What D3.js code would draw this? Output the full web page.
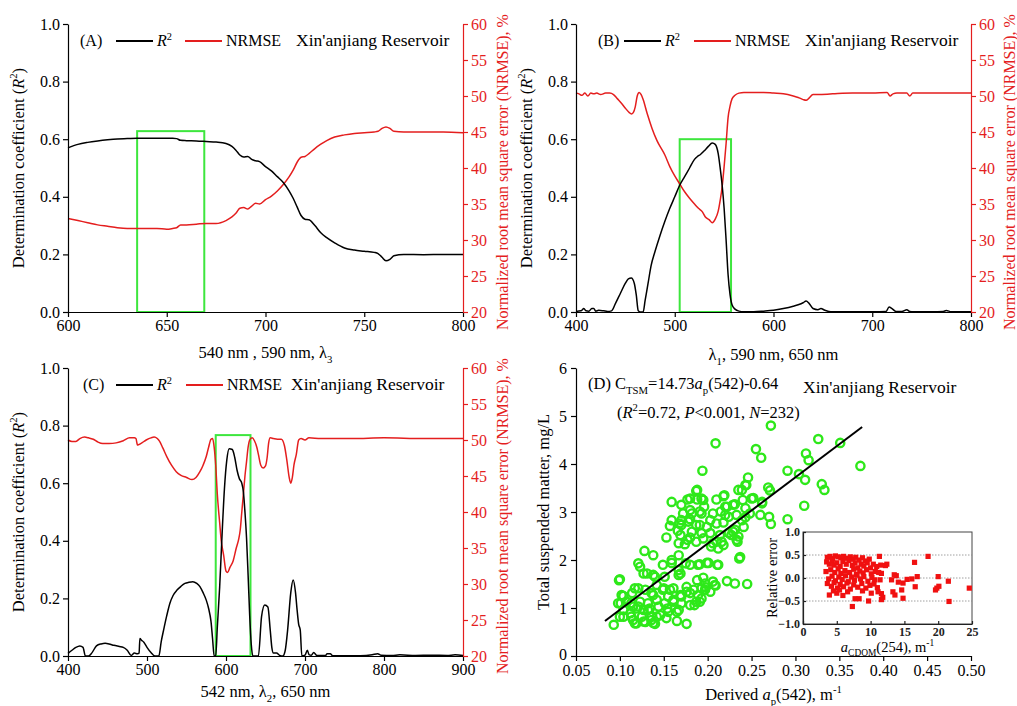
<!DOCTYPE html>
<html><head><meta charset="utf-8">
<script src="https://cdn.jsdelivr.net/npm/d3@7"></script>
<style>
body{margin:0;background:#fff}
svg{font-family:"Liberation Serif","Times New Roman",serif}
</style></head>
<body><svg id="chart" width="1017" height="706"></svg>
<script>
// ---------- Panel A data (λ3 scan) ----------
const aWl=[600,605,610,615,620,625,630,635,640,645,650,653,655,657,660,665,670,675,680,683,685,687,689,691,693,695,697,700,703,706,709,712,714,716,718,720,722,725,728,731,735,740,745,750,755,757,759,761,763,765,770,780,790,800];
const aR2=[0.570,0.582,0.589,0.594,0.598,0.601,0.602,0.603,0.603,0.603,0.603,0.603,0.602,0.596,0.595,0.594,0.592,0.590,0.585,0.575,0.562,0.545,0.538,0.540,0.530,0.525,0.522,0.505,0.490,0.470,0.450,0.420,0.395,0.365,0.335,0.322,0.320,0.300,0.275,0.258,0.240,0.222,0.215,0.211,0.207,0.203,0.190,0.178,0.183,0.195,0.200,0.199,0.200,0.200];
const aNrmse=[33.0,32.7,32.4,32.1,31.9,31.7,31.6,31.6,31.6,31.6,31.5,31.6,31.7,32.1,32.1,32.2,32.3,32.3,32.7,33.2,33.7,34.4,34.5,34.3,34.7,35.1,35.0,35.6,36.1,36.8,37.7,38.8,39.7,40.8,41.5,41.6,42.0,42.7,43.3,43.8,44.3,44.6,44.8,44.9,45.0,45.1,45.5,45.7,45.5,45.1,45.0,45.0,45.0,44.9];
const aBox=[635,669,0.628];

// ---------- Panel B data (λ1 scan) ----------
const bR2Wl=[400,405,408,410,413,416,418,420,423,428,432,436,440,445,450,453,456,459,461,463,465,468,470,473,476,480,485,490,495,500,505,510,515,520,523,526,530,534,538,541,544,546,548,550,552,554,556,558,561,565,570,580,590,600,610,620,625,630,633,636,640,645,648,652,656,660,680,700,714,717,720,724,730,735,738,742,760,772,775,780,800];
const bR2=[0.002,0.004,0.012,0.004,0.003,0.012,0.012,0.003,0.006,0.004,0.002,0.004,0.03,0.065,0.10,0.115,0.118,0.10,0.06,0.005,0.0,0.0,0.04,0.10,0.16,0.21,0.265,0.315,0.36,0.40,0.44,0.47,0.50,0.53,0.54,0.547,0.56,0.575,0.587,0.582,0.55,0.50,0.44,0.36,0.25,0.13,0.06,0.025,0.01,0.003,0.001,0.001,0.003,0.006,0.012,0.02,0.025,0.032,0.038,0.03,0.012,0.008,0.012,0.006,0.002,0.001,0.001,0.001,0.002,0.017,0.012,0.002,0.002,0.008,0.002,0.001,0.001,0.002,0.005,0.001,0.001];
const bNrmseWl=[400,403,406,409,412,415,418,421,425,430,434,438,442,446,450,454,456,458,460,462,464,466,468,472,477,482,490,495,500,505,510,515,520,524,528,531,535,538,541,544,546,548,550,552,554,556,558,561,565,570,580,590,600,610,620,625,630,633,636,640,645,660,680,700,715,718,721,725,735,738,741,760,775,800];
const bNrmse=[50.4,50.3,50.1,50.4,50.0,50.4,50.3,50.4,50.2,50.4,50.4,50.2,49.6,49.0,48.3,47.7,47.5,47.7,48.5,50.0,50.5,50.2,49.5,47.6,45.5,43.8,41.8,40.2,38.9,37.8,36.7,35.8,35.0,34.4,33.9,33.2,32.8,32.4,32.9,34.0,35.5,37.4,40.2,43.4,47.0,48.6,49.6,50.1,50.4,50.5,50.5,50.5,50.4,50.3,50.0,49.8,49.5,49.4,49.7,50.2,50.2,50.3,50.4,50.4,50.5,50.0,50.3,50.4,50.4,50.0,50.4,50.4,50.4,50.4];
const bBox=[505,557,0.60];

// ---------- Panel C data (λ2 scan) ----------
const cR2Wl=[400,405,410,415,419,422,426,430,436,442,447,452,458,465,470,475,480,484,488,490,491,493,496,500,505,510,515,518,521,525,529,533,538,543,548,553,558,563,567,571,575,578,581,583,585,587,589,592,595,598,601,604,608,611,614,617,620,622,624,626,628,630,632,634,641,645,649,653,656,658,660,664,668,672,675,678,682,685,688,690,692,694,696,700,703,705,708,711,715,726,728,732,735,770,785,792,796,810,820,840,860,880,890,900];
const cR2=[0.009,0.02,0.03,0.035,0.03,0.0,0.0,0.01,0.035,0.042,0.044,0.042,0.037,0.033,0.03,0.02,0.002,0.01,0.008,0.01,0.061,0.055,0.048,0.03,0.012,0.0,0.0,0.05,0.09,0.14,0.183,0.21,0.229,0.242,0.252,0.256,0.258,0.252,0.241,0.22,0.194,0.165,0.12,0.06,0.0,0.0,0.1,0.24,0.42,0.58,0.68,0.72,0.717,0.69,0.645,0.615,0.60,0.57,0.50,0.41,0.28,0.14,0.04,0.0,0.0,0.137,0.177,0.17,0.09,0.03,0.01,0.01,0.002,0.0,0.02,0.09,0.22,0.264,0.22,0.16,0.11,0.09,0.0,0.003,0.02,0.005,0.003,0.012,0.002,0.002,0.008,0.008,0.001,0.001,0.004,0.008,0.003,0.002,0.004,0.002,0.003,0.002,0.004,0.002];
const cNrmseWl=[400,405,410,415,421,426,432,438,444,452,461,470,478,484,486,488,492,499,505,509,513,516,520,525,531,537,543,550,557,562,567,571,575,578,581,583,585,587,589,592,594,597,600,602,605,609,613,616,618,620,622,624,626,628,630,633,636,639,641,644,647,650,652,654,656,660,665,670,674,677,680,682,684,686,689,692,695,700,705,720,760,800,850,900];
const cNrmse=[50.0,49.8,49.8,50.2,50.4,50.3,50.1,49.7,49.5,49.5,49.6,49.9,50.3,50.3,50.2,49.3,49.5,50.0,50.3,50.4,50.2,49.8,48.9,47.7,46.5,45.6,45.1,44.8,44.5,44.8,45.6,46.5,47.7,49.0,50.1,50.2,49.0,46.5,42.5,38.5,36.0,34.0,31.8,31.6,32.3,33.2,35.0,36.2,37.5,40.0,42.5,45.0,47.0,49.0,50.0,50.3,49.9,49.0,48.0,46.5,46.1,46.4,47.5,49.6,50.3,50.2,50.1,50.1,49.2,47.2,44.8,44.0,44.8,46.5,48.0,50.0,50.2,50.0,50.3,50.2,50.2,50.3,50.2,50.2];
const cBox=[587,631,0.767];

// ---------- Panel D data ----------
const apDerived=[0.272,0.209,0.326,0.351,0.255,0.261,0.312,0.315,0.374,0.194,0.291,0.304,0.311,0.246,0.330,0.333,0.244,0.269,0.271,0.239,0.252,0.240,0.262,0.243,0.310,0.260,0.270,0.272,0.291,0.243,0.248,0.188,0.180,0.159,0.170,0.188,0.195,0.210,0.218,0.235,0.222,0.229,0.180,0.191,0.172,0.159,0.170,0.180,0.206,0.215,0.224,0.233,0.203,0.210,0.241,0.157,0.170,0.191,0.153,0.169,0.180,0.195,0.167,0.174,0.210,0.218,0.229,0.233,0.237,0.203,0.224,0.128,0.138,0.121,0.099,0.127,0.138,0.149,0.159,0.167,0.169,0.180,0.191,0.201,0.212,0.222,0.231,0.245,0.188,0.197,0.208,0.193,0.203,0.184,0.176,0.169,0.157,0.155,0.149,0.142,0.138,0.129,0.117,0.114,0.102,0.101,0.108,0.115,0.123,0.127,0.134,0.144,0.151,0.161,0.170,0.180,0.191,0.165,0.155,0.146,0.136,0.125,0.115,0.104,0.093,0.119,0.129,0.140,0.153,0.165,0.176,0.112,0.123,0.167,0.167,0.131,0.140,0.151,0.195,0.206,0.198,0.209,0.176,0.161,0.150,0.136,0.121,0.104,0.142,0.170,0.180,0.189,0.197,0.098,0.113,0.121,0.132,0.161,0.187,0.193,0.104,0.119,0.132,0.154,0.167,0.185,0.100,0.113,0.142,0.117,0.127,0.138,0.136,0.100,0.175,0.189,0.199,0.211,0.159,0.236,0.177,0.187,0.206,0.216,0.204,0.212,0.234,0.182,0.193,0.214,0.227,0.235,0.166,0.231,0.168,0.178,0.187,0.199,0.218,0.182,0.193,0.220,0.239,0.177,0.196,0.220,0.231,0.262,0.219,0.193,0.250,0.187,0.243];
const tsmMeasured=[4.80,4.43,4.52,4.44,4.31,4.13,4.22,4.08,3.96,3.86,3.86,3.79,3.67,3.72,3.58,3.46,3.56,3.51,3.45,3.46,3.29,3.25,3.21,3.08,3.13,2.94,2.90,2.75,2.85,2.89,2.97,3.46,3.28,3.21,3.15,3.26,3.25,3.26,3.33,3.46,3.11,3.15,3.04,3.01,2.97,2.83,2.83,2.85,2.97,3.01,2.90,2.94,2.83,2.76,2.69,2.71,2.73,2.73,2.47,2.52,2.47,2.45,2.35,2.33,2.38,2.31,2.59,2.42,2.06,2.56,2.56,2.19,2.10,1.93,1.58,1.72,1.69,1.90,1.94,2.10,1.72,1.90,1.91,1.94,1.90,1.56,1.51,1.50,1.58,1.51,1.48,1.41,1.34,1.38,1.34,1.27,1.38,1.24,1.38,1.48,1.27,1.38,1.41,1.31,1.27,1.10,1.13,1.03,1.13,0.96,0.99,1.03,1.10,1.13,1.10,1.06,1.13,0.92,0.92,0.85,0.82,0.82,0.75,0.82,0.65,0.68,0.71,0.67,0.79,0.73,0.67,0.89,1.86,1.79,1.69,1.72,1.65,1.65,1.63,1.55,1.43,1.47,1.44,1.41,1.41,1.31,1.41,1.25,1.17,1.24,1.31,1.27,1.38,1.10,1.10,1.03,1.10,1.17,1.13,1.20,0.96,0.99,0.96,0.99,0.96,1.06,0.82,0.82,0.82,0.68,0.72,0.69,0.75,1.60,1.93,1.90,1.94,1.90,2.00,2.03,2.42,2.38,2.35,2.38,2.28,2.24,2.38,2.59,2.56,2.52,2.52,2.49,2.61,2.63,2.76,2.80,2.73,2.69,2.78,2.97,2.97,2.94,2.83,3.26,3.11,3.11,3.16,3.18,3.35,3.28,3.28,3.44,3.56];
const fitX=[0.083,0.376];
const fitY=[0.73,4.77];

// inset: relative error vs aCDOM(254)
const aCdom=[3.6,4.0,4.4,4.8,5.2,5.6,6.0,6.5,7.0,7.4,7.8,8.3,8.8,9.2,9.8,11.3,3.5,3.9,4.3,4.6,5.0,5.5,5.9,6.4,6.8,7.3,7.7,8.1,8.6,9.0,9.5,10.0,10.4,10.9,11.5,12.2,3.4,4.1,4.7,5.2,5.6,6.2,6.9,7.5,7.9,8.4,8.9,9.4,10.1,10.7,11.2,11.6,3.8,4.3,4.8,5.3,5.8,6.3,6.7,7.2,7.6,8.0,8.5,9.0,9.6,10.2,10.6,11.4,13.1,13.8,14.1,14.8,3.6,4.2,4.6,5.1,5.5,6.0,6.5,7.0,7.5,8.1,8.7,9.3,9.9,10.5,11.0,3.9,4.5,5.0,5.4,5.9,6.6,7.7,8.3,9.7,7.3,8.8,10.1,11.1,11.6,11.8,11.6,12.4,13.3,13.6,14.6,14.8,16.5,16.1,16.9,16.6,18.5,20.0,19.8,20.1,19.6,21.5,21.6,24.6,13.5,15.4];
const relErr=[0.45,0.47,0.42,0.48,0.46,0.44,0.47,0.43,0.46,0.41,0.45,0.39,0.44,0.37,0.41,0.47,0.35,0.30,0.38,0.28,0.33,0.25,0.36,0.30,0.38,0.27,0.33,0.22,0.30,0.26,0.33,0.22,0.30,0.25,0.28,0.27,0.14,0.18,0.12,0.20,0.10,0.16,0.12,0.19,0.08,0.15,0.11,0.18,0.09,0.14,0.12,0.10,-0.02,0.04,-0.06,0.02,-0.03,0.05,-0.08,0.02,-0.05,0.06,-0.02,0.03,-0.07,0.01,-0.04,-0.04,-0.04,0.05,-0.09,-0.11,-0.12,-0.18,-0.10,-0.22,-0.14,-0.19,-0.11,-0.24,-0.15,-0.20,-0.12,-0.22,-0.16,-0.13,-0.21,-0.37,-0.28,-0.33,-0.26,-0.38,-0.30,-0.45,-0.45,-0.50,-0.62,-0.28,-0.33,-0.30,-0.47,-0.42,-0.34,0.30,-0.30,-0.37,-0.26,-0.44,0.34,-0.02,0.03,-0.19,0.47,0.03,-0.22,-0.18,-0.26,-0.07,-0.51,-0.22,0.07,-0.03];

// tick values
const r2Ticks=[0,0.2,0.4,0.6,0.8,1.0];
const nrmseTicks=[20,25,30,35,40,45,50,55,60];
const aTicks=[600,650,700,750,800];
const bTicks=[400,500,600,700,800];
const cTicks=[400,500,600,700,800,900];
const dXTicks=[0.05,0.10,0.15,0.20,0.25,0.30,0.35,0.40,0.45,0.50];
const dYTicks=[0,1,2,3,4,5,6];
const inXTicks=[0,5,10,15,20,25];
const inYTicks=[-1.0,-0.5,0.0,0.5,1.0];

const BLACK="#000", RED="#e41e1e", GREEN_BOX="#3de63d", GREEN_PT="#2ee81a";
const TICK_FS=16, LAB_FS=16.5, LEG_FS=16, XIN_FS=17.5;
const svg=d3.select("#chart");

function rich(g,x,y,segs,o={}){
  const size=o.size||LAB_FS;
  const t=g.append("text").attr("x",x).attr("y",y).attr("font-size",size)
    .attr("text-anchor",o.anchor||"start").attr("fill",o.fill||BLACK);
  if(o.rotate) t.attr("transform",`rotate(${o.rotate},${x},${y})`);
  if(o.weight) t.attr("font-weight",o.weight);
  let shift=0;
  segs.forEach(s=>{
    if(typeof s==="string") s={t:s};
    const sp=t.append("tspan").text(s.t);
    const target=s.sub?size*0.3:(s.sup?-size*0.4:0);
    if(target!==shift){sp.attr("dy",target-shift);shift=target;}
    if(s.sub||s.sup) sp.attr("font-size",size*0.65);
    if(s.it) sp.attr("font-style","italic");
  });
  return t;
}

function styleAxis(g,color,fs){
  g.select(".domain").attr("stroke",color).attr("stroke-width",1.2);
  g.selectAll(".tick line").attr("stroke",color).attr("stroke-width",1.2);
  g.selectAll(".tick text").attr("fill",color).attr("font-size",fs||TICK_FS)
    .attr("font-family","Liberation Serif, Times New Roman, serif");
}

function spectral(cfg){
  const g=svg.append("g");
  const x=d3.scaleLinear().domain(cfg.xDomain).range([cfg.x0,cfg.x1]);
  const y=d3.scaleLinear().domain([0,1]).range([cfg.y1,cfg.y0]);
  const yr=d3.scaleLinear().domain([20,60]).range([cfg.y1,cfg.y0]);
  g.append("rect").attr("x",x(cfg.box[0])).attr("y",y(cfg.box[2]))
    .attr("width",x(cfg.box[1])-x(cfg.box[0])).attr("height",y(0)-y(cfg.box[2]))
    .attr("fill","none").attr("stroke",GREEN_BOX).attr("stroke-width",2);
  const ln=d3.line().curve(d3.curveMonotoneX);
  g.append("path").attr("d",ln.x(d=>x(d[0])).y(d=>yr(d[1]))(d3.zip(cfg.nWl,cfg.n)))
    .attr("fill","none").attr("stroke",RED).attr("stroke-width",1.5);
  g.append("path").attr("d",ln.x(d=>x(d[0])).y(d=>y(d[1]))(d3.zip(cfg.rWl,cfg.r)))
    .attr("fill","none").attr("stroke",BLACK).attr("stroke-width",1.5);
  const ax=g.append("g").attr("transform",`translate(0,${cfg.y1})`)
    .call(d3.axisBottom(x).tickValues(cfg.xTicks).tickSize(5).tickSizeOuter(0).tickFormat(d3.format("d")));
  styleAxis(ax,BLACK);
  const ay=g.append("g").attr("transform",`translate(${cfg.x0},0)`)
    .call(d3.axisLeft(y).tickValues(r2Ticks).tickSize(5).tickSizeOuter(0).tickFormat(d3.format(".1f")));
  styleAxis(ay,BLACK);
  const ar=g.append("g").attr("transform",`translate(${cfg.x1},0)`)
    .call(d3.axisRight(yr).tickValues(nrmseTicks).tickSize(5).tickSizeOuter(0).tickFormat(d3.format("d")));
  styleAxis(ar,RED);
  rich(g,cfg.x0-44,(cfg.y0+cfg.y1)/2,["Determination coefficient (",{t:"R",it:1},{t:"2",sup:1},")"],{anchor:"middle",rotate:-90});
  rich(g,Math.min(cfg.x1+45,1015),(cfg.y0+cfg.y1)/2+4,["Normalized root mean square error (NRMSE), %"],{anchor:"middle",rotate:-90,fill:RED,size:16});
  rich(g,(cfg.x0+cfg.x1)/2,cfg.y1+cfg.xLabDy,cfg.xLabel,{anchor:"middle"});
  const L=cfg.leg, ly=cfg.y0+22;
  g.append("text").attr("x",L[0]).attr("y",ly).attr("font-size",LEG_FS).text(cfg.letter);
  g.append("line").attr("x1",L[1]).attr("x2",L[1]+37).attr("y1",ly-5).attr("y2",ly-5).attr("stroke",BLACK).attr("stroke-width",2);
  rich(g,L[1]+41,ly,[{t:"R",it:1},{t:"2",sup:1}],{size:LEG_FS});
  g.append("line").attr("x1",L[2]).attr("x2",L[2]+37).attr("y1",ly-5).attr("y2",ly-5).attr("stroke",RED).attr("stroke-width",2);
  g.append("text").attr("x",L[2]+41).attr("y",ly).attr("font-size",LEG_FS).text("NRMSE");
  g.append("text").attr("x",L[3]).attr("y",ly).attr("font-size",XIN_FS).text("Xin'anjiang Reservoir");
}

spectral({xDomain:[600,800],x0:68,x1:463,y0:24,y1:312,xTicks:aTicks,
  rWl:aWl,r:aR2,nWl:aWl,n:aNrmse,box:aBox,letter:"(A)",leg:[80,116,185,296],xLabDy:46,
  xLabel:["540 nm , 590 nm, λ",{t:"3",sub:1}]});
spectral({xDomain:[400,800],x0:576,x1:971,y0:24,y1:312,xTicks:bTicks,
  rWl:bR2Wl,r:bR2,nWl:bNrmseWl,n:bNrmse,box:bBox,letter:"(B)",leg:[598,624,694,805],xLabDy:48,
  xLabel:["λ",{t:"1",sub:1},", 590 nm, 650 nm"]});
spectral({xDomain:[400,900],x0:68,x1:463,y0:368,y1:656,xTicks:cTicks,
  rWl:cR2Wl,r:cR2,nWl:cNrmseWl,n:cNrmse,box:cBox,letter:"(C)",leg:[83,116,186,291],xLabDy:41,
  xLabel:["542 nm, λ",{t:"2",sub:1},", 650 nm"]});

// ---------- Panel D ----------
(function(){
  const g=svg.append("g");
  const x0=576,x1=971,y0=368,y1=656;
  const x=d3.scaleLinear().domain([0.05,0.50]).range([x0,x1]);
  const y=d3.scaleLinear().domain([0,6]).range([y1,y0]);
  g.selectAll("circle.pt").data(d3.zip(apDerived,tsmMeasured)).join("circle")
    .attr("class","pt").attr("cx",d=>x(d[0])).attr("cy",d=>y(d[1])).attr("r",4.1)
    .attr("fill","none").attr("stroke",GREEN_PT).attr("stroke-width",2.4);
  g.append("path").attr("d",d3.line().x(d=>x(d[0])).y(d=>y(d[1]))(d3.zip(fitX,fitY)))
    .attr("stroke",BLACK).attr("stroke-width",2).attr("fill","none");
  const ax=g.append("g").attr("transform",`translate(0,${y1})`)
    .call(d3.axisBottom(x).tickValues(dXTicks).tickSize(5).tickSizeOuter(0).tickPadding(4).tickFormat(d3.format(".2f")));
  styleAxis(ax,BLACK);
  const ay=g.append("g").attr("transform",`translate(${x0},0)`)
    .call(d3.axisLeft(y).tickValues(dYTicks).tickSize(5).tickSizeOuter(0).tickPadding(4).tickFormat(d3.format("d")));
  styleAxis(ay,BLACK);
  ay.selectAll(".tick text").filter(d=>d===0).attr("dy","0.2em");
  rich(g,549,(y0+y1)/2,["Total suspended matter, mg/L"],{anchor:"middle",rotate:-90});
  rich(g,(x0+x1)/2,y1+44,["Derived ",{t:"a",it:1},{t:"p",sub:1},"(542), m",{t:"-1",sup:1}],{anchor:"middle"});
  rich(g,588,389,["(D) C",{t:"TSM",sub:1},"=14.73",{t:"a",it:1},{t:"p",sub:1},"(542)-0.64"]);
  g.append("text").attr("x",803).attr("y",393).attr("font-size",XIN_FS).text("Xin'anjiang Reservoir");
  rich(g,617,418,["(",{t:"R",it:1},{t:"2",sup:1},"=0.72, ",{t:"P",it:1},"<0.001, ",{t:"N",it:1},"=232)"]);

  // inset
  const ix0=803,ix1=972,iy0=532,iy1=624;
  const ix=d3.scaleLinear().domain([0,25]).range([ix0,ix1]);
  const iy=d3.scaleLinear().domain([-1,1]).range([iy1,iy0]);
  g.append("rect").attr("x",ix0).attr("y",iy0).attr("width",ix1-ix0).attr("height",iy1-iy0)
    .attr("fill","#fff").attr("stroke","#444").attr("stroke-width",1);
  g.selectAll("line.grid").data([0.5,0,-0.5]).join("line").attr("class","grid")
    .attr("x1",ix0).attr("x2",ix1).attr("y1",d=>iy(d)).attr("y2",d=>iy(d))
    .attr("stroke","#888").attr("stroke-width",0.8).attr("stroke-dasharray","1.5,1.5");
  g.selectAll("rect.sq").data(d3.zip(aCdom,relErr)).join("rect").attr("class","sq")
    .attr("x",d=>ix(d[0])-2.6).attr("y",d=>iy(d[1])-2.6).attr("width",5.2).attr("height",5.2)
    .attr("fill","#f01010");
  const iax=g.append("g").attr("transform",`translate(0,${iy1})`)
    .call(d3.axisBottom(ix).tickValues(inXTicks).tickSize(-3).tickSizeOuter(0).tickPadding(3).tickFormat(d3.format("d")));
  styleAxis(iax,"#222",12);
  iax.selectAll(".tick text").attr("font-weight","bold");
  const iay=g.append("g").attr("transform",`translate(${ix0},0)`)
    .call(d3.axisLeft(iy).tickValues(inYTicks).tickSize(-3).tickSizeOuter(0).tickPadding(3).tickFormat(d3.format(".1f")));
  styleAxis(iay,"#222",12);
  iay.selectAll(".tick text").attr("font-weight","bold");
  rich(g,777,(iy0+iy1)/2,["Relative error"],{anchor:"middle",rotate:-90,size:14.5});
  rich(g,(ix0+ix1)/2,652,[{t:"a",it:1},{t:"CDOM",sub:1},"(254), m",{t:"-1",sup:1}],{anchor:"middle",size:14.5});
})();
</script>
</body></html>
